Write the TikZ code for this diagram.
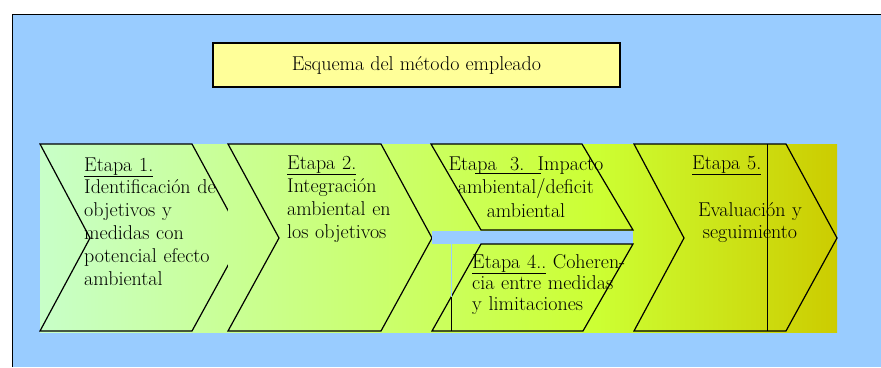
\documentclass[tikz,border=0pt]{standalone}
\usepackage{fontspec}

\definecolor{skyblue}{HTML}{99CCFF}
\definecolor{titleyellow}{HTML}{FFFF99}
\definecolor{bandmint}{HTML}{C8FFC8}
\definecolor{bandlime}{HTML}{CCFF33}
\definecolor{bandolive}{HTML}{CCCC00}

\pgfdeclarehorizontalshading{bandshade}{100bp}{color(0bp)=(bandmint); color(25bp)=(bandmint);
  color(60bp)=(bandlime); color(75bp)=(bandolive); color(100bp)=(bandolive)}

\begin{document}
\begin{tikzpicture}[x=1pt,y=-1pt,
  edge/.style={line width=1.2pt},
  stagetext/.style={font=\fontsize{20}{23}\selectfont, inner sep=0pt, anchor=base west,
    text width=160pt, align=left}]
	\useasboundingbox (0,0) rectangle (881,367);

	% fondo
	\fill[skyblue] (12,14) rectangle (881,367);
	\draw[line width=1pt] (12,367) -- (12,14) -- (881,14);

	% titulo
	\node[draw, line width=1.2pt, fill=titleyellow, minimum width=407pt, minimum height=44pt,
	  inner sep=0pt, font=\fontsize{20}{23}\selectfont] (title) at (416.5,65) {Esquema del método empleado};

	% banda
	\shade[shading=bandshade] (40,144) rectangle (837,332);

	% etapa 1
	\draw[edge] (40,144) -- (192,144) -- (243,238) -- (192,331) -- (40,331) -- (90,238) -- cycle;

	% etapa 2 (su caja tapa la punta de la etapa 1)
	\begin{scope}
		\clip (228,144) rectangle (432,332);
		\shade[shading=bandshade] (40,144) rectangle (837,332);
	\end{scope}
	\draw[edge] (228,144) -- (381,144) -- (432,238) -- (381,331) -- (228,331) -- (279,238) -- cycle;

	% etapas 3 y 4
	\fill[skyblue] (432,231) rectangle (633,244);
	\draw[edge] (431,144) -- (582,144) -- (633,230) -- (481,230) -- cycle;
	\draw[edge] (481,244) -- (633,244) -- (583,331) -- (432,331) -- cycle;
	\draw[skyblue, line width=1pt] (451,244) -- (451,297);
	\draw[line width=1pt] (451,297) -- (451,331);

	% etapa 5
	\draw[edge] (634,144) -- (786,144) -- (837,238) -- (786,331) -- (634,331) -- (684,238) -- cycle;
	\draw[line width=1pt] (767,144) -- (767,331);

	% textos
	\node[stagetext, font=\fontsize{20}{22.8}\selectfont] (etapa1) at (84,171)
	  {\underline{Etapa 1.}\\Identificación de\\objetivos y\\medidas con\\potencial efecto\\ambiental};
	\node[stagetext] (etapa2) at (287,169) {\underline{Etapa 2.}\\Integración\\ambiental en\\los objetivos};
	\node[stagetext, align=center, anchor=base, font=\fontsize{20}{23.5}\selectfont] (etapa3) at (526,170)
	  {Etapa~~3.~~Impacto\\ambiental/deficit\\ambiental};
	\draw[line width=0.8pt] (475,173) -- (541,173);
	\node[stagetext, text width=152pt, font=\fontsize{20}{21}\selectfont] (etapa4) at (472,268)
	  {\makebox[152pt][s]{\underline{Etapa 4..} Coheren-}\\\makebox[152pt][s]{cia entre medidas}\\y limitaciones};
	\node[stagetext] (etapa5) at (692,169) {\underline{Etapa 5.}};
	\node[stagetext, align=center, anchor=base, font=\fontsize{20}{22}\selectfont] (evaluacion) at (750,216)
	  {Evaluación y\\seguimiento};

\end{tikzpicture}
\end{document}
